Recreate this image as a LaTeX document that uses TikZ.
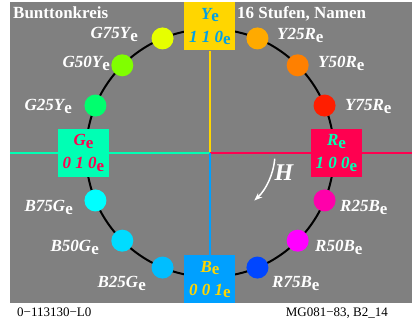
\documentclass[tikz,border=0pt]{standalone}
\usepackage{fontspec}
\setmainfont{Liberation Serif}
\usetikzlibrary{arrows.meta,positioning}

\definecolor{bggray}{RGB}{128,128,128}
\definecolor{colY}{RGB}{255,214,0}
\definecolor{colR}{RGB}{255,0,80}
\definecolor{colG}{RGB}{0,255,180}
\definecolor{colB}{RGB}{0,160,255}
\definecolor{txtY}{RGB}{0,160,230}
\definecolor{cG75Y}{RGB}{230,255,0}
\definecolor{cG50Y}{RGB}{128,255,0}
\definecolor{cG25Y}{RGB}{0,255,110}
\definecolor{cY25R}{RGB}{255,170,0}
\definecolor{cY50R}{RGB}{255,128,0}
\definecolor{cY75R}{RGB}{255,30,0}
\definecolor{cR25B}{RGB}{255,0,170}
\definecolor{cR50B}{RGB}{255,0,255}
\definecolor{cR75B}{RGB}{0,70,255}
\definecolor{cB25G}{RGB}{0,190,255}
\definecolor{cB50G}{RGB}{0,220,255}
\definecolor{cB75G}{RGB}{0,255,255}

\newcommand{\esub}{\raisebox{-0.3ex}{\upshape e}}

\begin{document}
\begin{tikzpicture}[
    x=1pt, y=1pt,
    dot/.style={circle, minimum size=22pt, inner sep=0pt},
    dotlabel/.style={inner sep=0pt, text=white, font=\fontsize{17}{20}\selectfont\bfseries\itshape},
    cornerbox/.style={rectangle, minimum width=51pt, minimum height=48pt, inner sep=0pt, align=center,
        font=\fontsize{17}{23}\selectfont\bfseries\itshape},
    axis/.style={line width=2.5pt},
    title/.style={inner sep=0pt, text=white, font=\fontsize{17}{20}\selectfont\bfseries},
    footer/.style={inner sep=0pt, font=\fontsize{13}{15}\selectfont}
]
\useasboundingbox (-210,-171) rectangle (203,153);

% Background
\fill[bggray] (-200,-150) rectangle (202,151);

\coordinate (origin) at (0,0);
\coordinate (leftend) at (-200,0);
\coordinate (rightend) at (202,0);

% Hue circle
\draw[line width=2pt] (origin) circle (124pt);

% Corner boxes
\node[cornerbox, fill=colY, text=txtY] (ybox) at (90:126.5) {Y\esub\\1 1 0\esub};
\node[cornerbox, fill=colG, text=colR] (gbox) at (180:126.5) {G\esub\\0 1 0\esub};
\node[cornerbox, fill=colR, text=colG] (rbox) at (0:126.5) {R\esub\\1 0 0\esub};
\node[cornerbox, fill=colB, text=colY] (bbox) at (270:126.5) {B\esub\\0 0 1\esub};

% Axes
\draw[axis, colY] (ybox.south) -- (origin);
\draw[axis, colG] (leftend) -- (gbox.west);
\draw[axis, colG] (gbox.east) -- (origin);
\draw[axis, colR] (origin) -- (rbox.west);
\draw[axis, colR] (rbox.east) -- (rightend);
\draw[axis, colB] (origin) -- (bbox.north);

% Intermediate hues
\foreach \ang/\col/\txt/\lx/\ly/\anc [count=\i] in {
    67.5/cY25R/Y25R/67/113/base west,
    45/cY50R/Y50R/108/85/base west,
    22.5/cY75R/Y75R/135/42/base west,
    -22.5/cR25B/R25B/130/-59/base west,
    -45/cR50B/R50B/105/-99/base west,
    -67.5/cR75B/R75B/62/-135/base west,
    -112.5/cB25G/B25G/-64/-135/base east,
    -135/cB50G/B50G/-111/-99/base east,
    -157.5/cB75G/B75G/-137/-59/base east,
    157.5/cG25Y/G25Y/-138/42/base east,
    135/cG50Y/G50Y/-100/85/base east,
    112.5/cG75Y/G75Y/-72/114/base east}
{
    \node[dot, fill=\col] (dot\i) at (\ang:124) {};
    \node[dotlabel, anchor=\anc] (lab\i) at (\lx,\ly) {\txt\esub};
}

% Hue direction
\coordinate (hstart) at (-5:65);
\draw[white, line width=1.5pt, -{Stealth[length=8pt,width=6pt]}]
    (hstart) arc[start angle=-5, end angle=-47, radius=65pt];
\node[text=white, font=\fontsize{24}{26}\selectfont\bfseries\itshape] (hlabel) at (74,-20) {H};

% Titles
\node[title, anchor=base west] (title) at (-197,134) {Bunttonkreis};
\node[title, anchor=base west] (subtitle) at (27,134) {16 Stufen, Namen};

% Footer
\node[footer, anchor=base west] (code) at (-193,-164) {0−113130−L0};
\node[footer, anchor=base east] (ref) at (178,-164) {MG081−83, B2\_14};
\end{tikzpicture}
\end{document}
